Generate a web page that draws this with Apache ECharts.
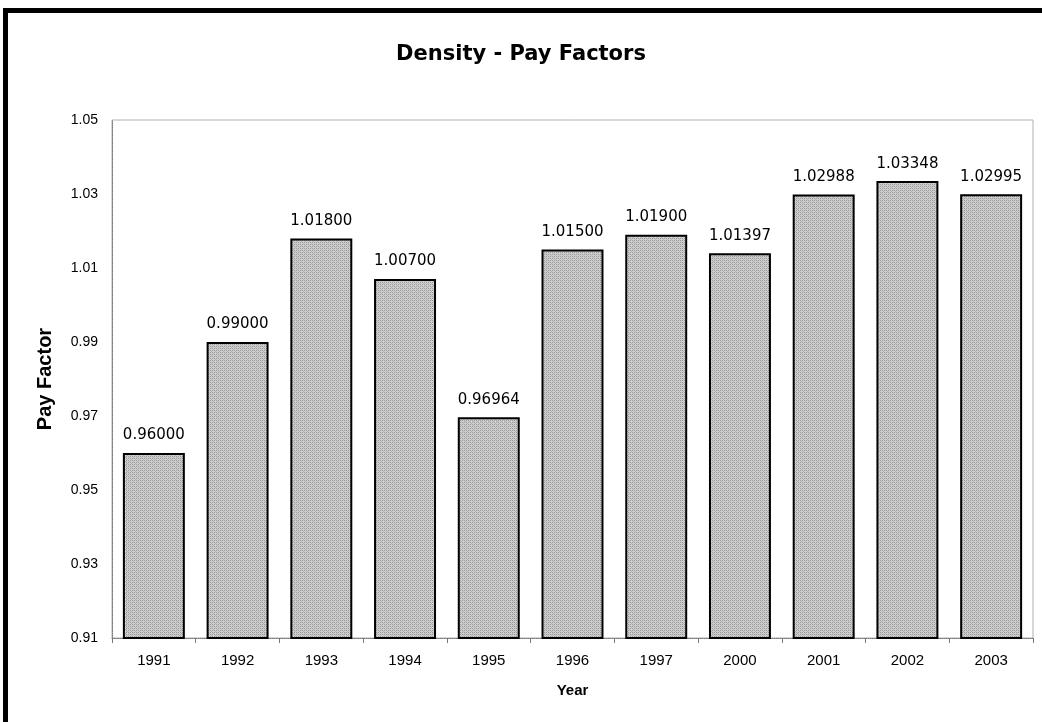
<!DOCTYPE html>
<html>
<head>
<meta charset="utf-8">
<script src="https://cdn.jsdelivr.net/npm/echarts@6/dist/echarts.min.js"></script>
<style>
  html, body { margin: 0; padding: 0; background: #fff; }
  #chart { width: 1042px; height: 722px; }
</style>
</head>
<body>
<div id="chart"></div>
<script>
var years = ['1991', '1992', '1993', '1994', '1995', '1996', '1997', '2000', '2001', '2002', '2003'];
var payFactors = [0.96000, 0.99000, 1.01800, 1.00700, 0.96964, 1.01500, 1.01900, 1.01397, 1.02988, 1.03348, 1.02995];

// dotted gray fill like the printed bars
function makePattern() {
    var c = document.createElement('canvas');
    c.width = 4;
    c.height = 4;
    var ctx = c.getContext('2d');
    ctx.fillStyle = '#cfcfcf';
    ctx.fillRect(0, 0, 4, 4);
    ctx.fillStyle = '#999999';
    ctx.fillRect(0, 0, 1, 1);
    ctx.fillRect(2, 2, 1, 1);
    ctx.fillRect(2, 0, 1, 1);
    ctx.fillRect(0, 2, 1, 1);
    ctx.fillStyle = '#b4b4b4';
    ctx.fillRect(1, 1, 1, 1);
    ctx.fillRect(3, 3, 1, 1);
    return c;
}

var myChart = echarts.init(document.getElementById('chart'));

var option = {
    backgroundColor: '#fff',
    animation: false,
    textStyle: {
        fontFamily: 'Arial, "Liberation Sans", sans-serif'
    },

    title: {
        text: 'Density - Pay Factors',
        left: 'center',
        top: 39,
        textStyle: {
            fontFamily: '"DejaVu Sans", Arial, sans-serif',
            fontSize: 21,
            fontWeight: 'bold',
            color: '#000'
        }
    },

    grid: {
        left: 112,
        right: 9,
        top: 120,
        bottom: 84,
        show: true,
        borderColor: '#b0b0b0',
        borderWidth: 1
    },

    // page edge lines (top and left only)
    graphic: [
        { type: 'rect', shape: { x: 3, y: 8, width: 1039, height: 5 }, style: { fill: '#000' } },
        { type: 'rect', shape: { x: 3, y: 8, width: 5, height: 714 }, style: { fill: '#000' } }
    ],

    xAxis: {
        type: 'category',
        data: years,
        name: 'Year',
        nameLocation: 'middle',
        nameGap: 45,
        nameTextStyle: {
            fontSize: 15,
            fontWeight: 'bold',
            color: '#000'
        },
        axisLine: {
            lineStyle: { color: '#777', type: 'dotted', width: 1 }
        },
        axisTick: {
            show: true,
            length: 5,
            lineStyle: { color: '#777' }
        },
        axisLabel: {
            margin: 15,
            fontSize: 15,
            color: '#000'
        }
    },

    yAxis: {
        type: 'value',
        min: 0.91,
        max: 1.05,
        interval: 0.02,
        name: 'Pay Factor',
        nameLocation: 'middle',
        nameGap: 57,
        nameTextStyle: {
            fontSize: 20,
            fontWeight: 'bold',
            color: '#000'
        },
        axisLine: {
            show: true,
            lineStyle: { color: '#777', type: 'dotted', width: 1 }
        },
        axisTick: { show: false },
        splitLine: { show: false },
        axisLabel: {
            margin: 14,
            fontSize: 14,
            color: '#000',
            formatter: function (v) {
                return v.toFixed(2);
            }
        }
    },

    series: [{
        name: 'Pay Factor',
        type: 'bar',
        data: payFactors,
        barCategoryGap: '26%',
        itemStyle: {
            color: { image: makePattern(), repeat: 'repeat' },
            borderColor: '#000',
            borderWidth: 2
        },
        label: {
            show: true,
            position: 'top',
            distance: 10,
            fontFamily: '"DejaVu Sans", Arial, sans-serif',
            fontSize: 15,
            color: '#000',
            formatter: function (p) {
                return p.value.toFixed(5);
            }
        }
    }]
};

myChart.setOption(option);
</script>
</body>
</html>
